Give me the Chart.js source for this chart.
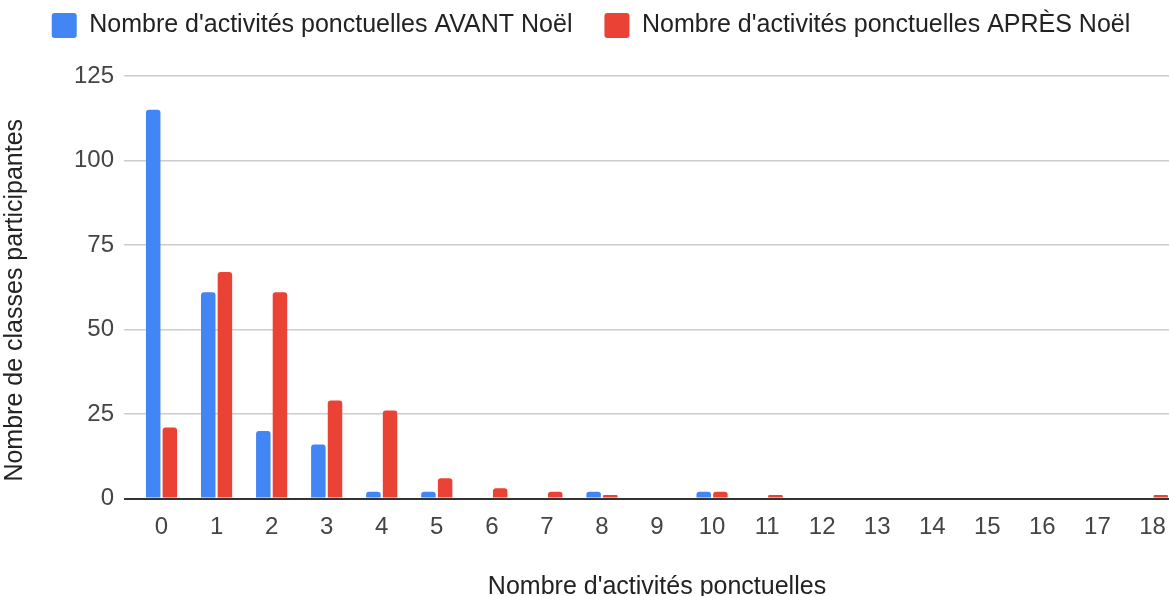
<!DOCTYPE html>
<html>
<head>
<meta charset="utf-8">
<script src="https://cdn.jsdelivr.net/npm/chart.js@4"></script>
<style>
  html, body { margin: 0; padding: 0; background: #fff; overflow: hidden; }
  #wrap { width: 1169px; height: 596px; overflow: hidden; }
</style>
</head>
<body>
<div id="wrap"><canvas id="chart" width="1180" height="602"></canvas></div>
<script>
const categories = ['0', '1', '2', '3', '4', '5', '6', '7', '8', '9', '10', '11', '12', '13', '14', '15', '16', '17', '18'];
const avantNoel = [115, 61, 20, 16, 2, 2, 0, 0, 2, 0, 2, 0, 0, 0, 0, 0, 0, 0, 0];
const apresNoel = [21, 67, 61, 29, 26, 6, 3, 2, 1, 0, 2, 1, 0, 0, 0, 0, 0, 0, 1];
const yTicks = [0, 25, 50, 75, 100, 125];

const tickFont = { family: 'Liberation Sans, Arial, sans-serif', size: 24 };
const labelFont = { family: 'Liberation Sans, Arial, sans-serif', size: 25 };

// nudge legend and y title into the same spots as the original layout
const nudge = {
    id: 'nudge',
    beforeUpdate(chart) {
        const lg = chart.legend;
        if (lg && !lg._nudged) {
            const fit = lg.fit, draw = lg.draw;
            lg.fit = function () { fit.call(this); this.height = 76; };
            lg.draw = function () {
                this.ctx.save();
                this.ctx.translate(1, -19);
                draw.apply(this, arguments);
                this.ctx.restore();
            };
            lg._nudged = true;
        }
    },
    afterLayout(chart) {
        const s = chart.scales.y;
        if (s && !s._nudged) {
            const drawTitle = s.drawTitle;
            s.drawTitle = function () {
                this.ctx.save();
                this.ctx.translate(0, 13);
                drawTitle.apply(this, arguments);
                this.ctx.restore();
            };
            s._nudged = true;
        }
    }
};

const ctx = document.getElementById('chart').getContext('2d');
new Chart(ctx, {
    type: 'bar',
    data: {
        labels: categories,
        datasets: [{
            label: "Nombre d'activités ponctuelles AVANT Noël",
            data: avantNoel,
            backgroundColor: '#4285F4',
            borderRadius: 3,
            borderSkipped: 'bottom'
        }, {
            label: "Nombre d'activités ponctuelles APRÈS Noël",
            data: apresNoel,
            backgroundColor: '#EA4335',
            borderRadius: 3,
            borderSkipped: 'bottom'
        }]
    },
    plugins: [nudge],
    options: {
        responsive: false,
        animation: false,
        categoryPercentage: 0.605,
        barPercentage: 0.87,
        layout: { padding: 0 },
        plugins: {
            tooltip: { enabled: false },
            legend: {
                position: 'top',
                labels: {
                    font: labelFont,
                    color: '#222',
                    boxWidth: 25,
                    boxHeight: 25,
                    padding: 32,
                    useBorderRadius: true,
                    borderRadius: 3
                }
            }
        },
        scales: {
            x: {
                grid: { display: false },
                border: { display: false },
                ticks: { font: tickFont, color: '#444', padding: 6, maxRotation: 0, autoSkip: false },
                title: {
                    display: true,
                    text: "Nombre d'activités ponctuelles",
                    font: labelFont,
                    color: '#222',
                    padding: { top: 0, bottom: 0 }
                },
                afterFit: scale => { scale.height = 103.5; }
            },
            y: {
                min: 0,
                max: 125,
                afterBuildTicks: scale => { scale.ticks = yTicks.map(v => ({ value: v })); },
                grid: {
                    color: c => (c.tick && c.tick.value === 0) ? '#333' : '#ccc',
                    lineWidth: c => (c.tick && c.tick.value === 0) ? 2 : 1.5,
                    tickLength: 10
                },
                border: { display: false },
                ticks: { font: tickFont, color: '#444', padding: 10 },
                title: {
                    display: true,
                    text: 'Nombre de classes participantes',
                    font: labelFont,
                    color: '#222',
                    padding: { top: 0, bottom: 0 }
                },
                afterFit: scale => { scale.width = 134; }
            }
        }
    }
});
</script>
</body>
</html>
